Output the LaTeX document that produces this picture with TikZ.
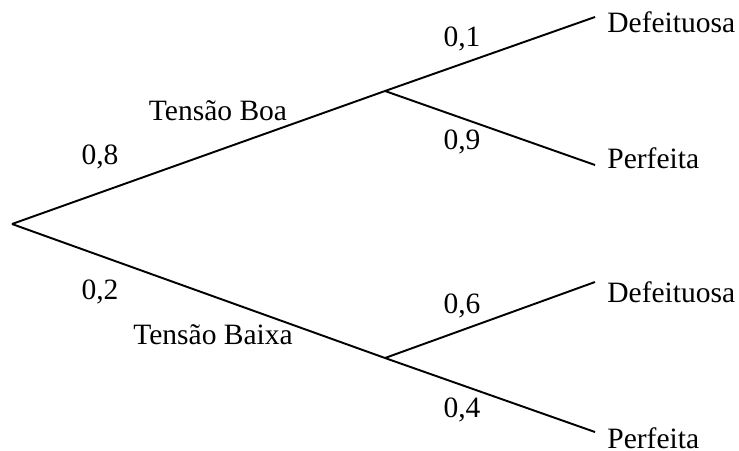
\documentclass[tikz,border=0pt]{standalone}
\usepackage{fontspec}
\setmainfont{Liberation Serif}
\usetikzlibrary{calc}

\begin{document}
\begin{tikzpicture}[x=0.02cm,y=-0.02cm,
    ramo/.style={line width=1.1pt},
    rotulo/.style={inner sep=0pt,font=\fontsize{16.8}{20}\selectfont},
    folha/.style={rotulo,anchor=west}]
			%%%%% START %%%%%
			\useasboundingbox (0,0) rectangle (739,450);

			\coordinate (raiz) at (12,224);
			\coordinate (boa) at (385,91);
			\coordinate (baixa) at (385,358);
			\coordinate (fimBD) at (595,17);
			\coordinate (fimBP) at (595,165);
			\coordinate (fimXD) at (595,282);
			\coordinate (fimXP) at (595,432);

			\draw[ramo] (raiz) -- (boa);
			\draw[ramo] (raiz) -- (baixa);
			\draw[ramo] (boa) -- (fimBD);
			\draw[ramo] (boa) -- (fimBP);
			\draw[ramo] (baixa) -- (fimXD);
			\draw[ramo] (baixa) -- (fimXP);

			\node[folha] (defBoa) at (607,22) {Defeituosa};
			\node[folha] (perBoa) at (607,158) {Perfeita};
			\node[folha] (defBaixa) at (607,292) {Defeituosa};
			\node[folha] (perBaixa) at (607,438.5) {Perfeita};

			\node[rotulo] (pBoa) at (100,157) {0,8};
			\node[rotulo] (nBoa) at (218,111) {Tensão Boa};
			\node[rotulo] (pBaixa) at (100,292) {0,2};
			\node[rotulo] (nBaixa) at (213,335) {Tensão Baixa};

			\node[rotulo] (p01) at (462,39) {0,1};
			\node[rotulo] (p09) at (462,142) {0,9};
			\node[rotulo] (p06) at (462,306) {0,6};
			\node[rotulo] (p04) at (462,410) {0,4};
			%%%%% END %%%%%
\end{tikzpicture}
\end{document}
